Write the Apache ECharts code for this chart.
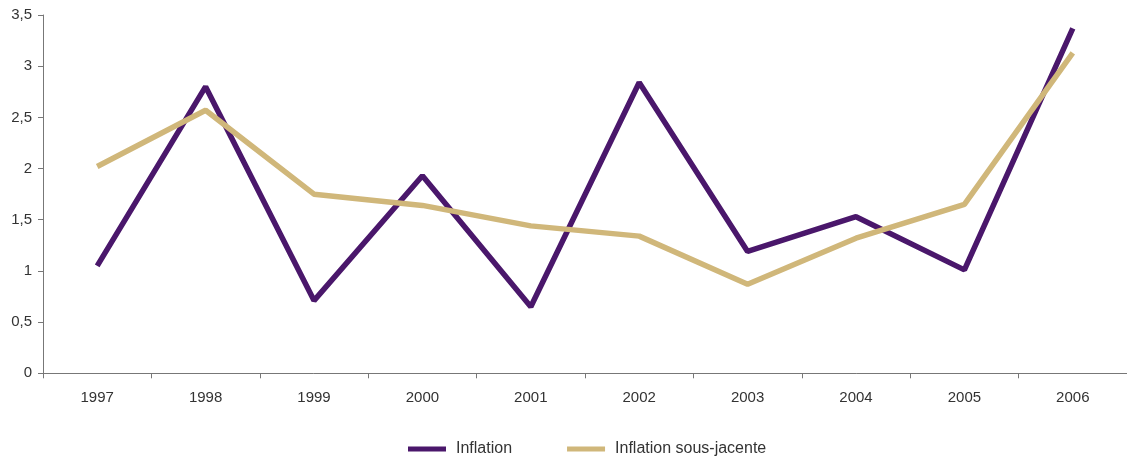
<!DOCTYPE html>
<html><head><meta charset="utf-8">
<script src="https://cdn.jsdelivr.net/npm/echarts@6/dist/echarts.min.js"></script>
<style>html,body{margin:0;padding:0;background:#fff}#c{width:1127px;height:456px}</style>
</head><body><div id="c"></div>
<script>
const categories = ['1997','1998','1999','2000','2001','2002','2003','2004','2005','2006'];
const inflation = [1.05, 2.80, 0.71, 1.93, 0.65, 2.84, 1.19, 1.53, 1.01, 3.37];
const inflationSousJacente = [2.02, 2.57, 1.75, 1.64, 1.44, 1.34, 0.87, 1.32, 1.65, 3.13];
const yTicks = [0, 0.5, 1, 1.5, 2, 2.5, 3, 3.5];

const chart = echarts.init(document.getElementById('c'), null, {renderer:'canvas'});
const txt = {color:'#333', fontFamily:'Liberation Sans, Arial, sans-serif', fontSize:15};
chart.setOption({
  animation:false,
  textStyle: txt,
  grid:{left:43, top:15, width:1087, height:358.3, containLabel:false},
  legend:{
    left:403, top:436, icon:'rect', itemWidth:38, itemHeight:5, itemGap:55,
    textStyle:{...txt, fontSize:16, padding:[0,0,0,5]},
    data:['Inflation','Inflation sous-jacente']
  },
  xAxis:{
    type:'category', data:categories, boundaryGap:true,
    axisLine:{lineStyle:{color:'#777', width:1}},
    axisTick:{show:true, length:5, lineStyle:{color:'#777'}},
    axisLabel:{...txt, margin:17}
  },
  yAxis:{
    type:'value', min:0, max:3.5, interval:0.5,
    splitLine:{show:false},
    axisLine:{show:true, lineStyle:{color:'#777', width:1}},
    axisTick:{show:true, length:5, lineStyle:{color:'#777'}},
    axisLabel:{...txt, margin:11, formatter:v=>yTicks.includes(v)?String(v).replace('.',','):''}
  },
  series:[
    {name:'Inflation', type:'line', data:inflation, symbol:'none',
     lineStyle:{color:'#4a176b', width:5.5}, itemStyle:{color:'#4a176b'}},
    {name:'Inflation sous-jacente', type:'line', data:inflationSousJacente, symbol:'none',
     lineStyle:{color:'#d0b77a', width:5.5}, itemStyle:{color:'#d0b77a'}}
  ]
});
</script></body></html>
